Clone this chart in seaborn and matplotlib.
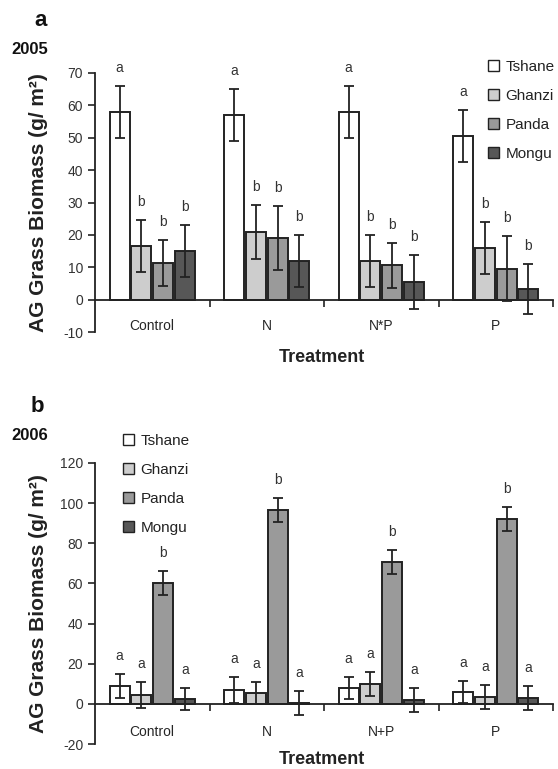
import numpy as np
import pandas as pd
import matplotlib
matplotlib.use("Agg")
import matplotlib.pyplot as plt
from matplotlib.patches import Patch
import seaborn as sns

# ---------------- data ----------------
sites = ["Tshane", "Ghanzi", "Panda", "Mongu"]
site_colors = ["#ffffff", "#cdcdcd", "#9a9a9a", "#575757"]

treatments_2005 = ["Control", "N", "N*P", "P"]
tshane_2005 = [58, 57, 58, 50.5]
ghanzi_2005 = [16.5, 21, 12, 16]
panda_2005 = [11.3, 19, 10.6, 9.5]
mongu_2005 = [15, 12, 5.5, 3.3]
tshane_2005_err = [8, 8, 8, 8]
ghanzi_2005_err = [8, 8.3, 8, 8]
panda_2005_err = [7, 10, 7, 10]
mongu_2005_err = [8, 8, 8.3, 7.8]
tshane_2005_let = ["a", "a", "a", "a"]
ghanzi_2005_let = ["b", "b", "b", "b"]
panda_2005_let = ["b", "b", "b", "b"]
mongu_2005_let = ["b", "b", "b", "b"]

treatments_2006 = ["Control", "N", "N+P", "P"]
tshane_2006 = [9, 7, 8, 6]
ghanzi_2006 = [4.5, 5.5, 10, 3.5]
panda_2006 = [60, 96.5, 70.5, 92]
mongu_2006 = [2.5, 0.5, 2, 3]
tshane_2006_err = [6, 6.5, 5.5, 5.5]
ghanzi_2006_err = [6.5, 5.5, 6, 6]
panda_2006_err = [6, 6, 6, 6]
mongu_2006_err = [5.5, 6, 6, 6]
tshane_2006_let = ["a", "a", "a", "a"]
ghanzi_2006_let = ["a", "a", "a", "a"]
panda_2006_let = ["b", "b", "b", "b"]
mongu_2006_let = ["a", "a", "a", "a"]

yticks_2005 = [-10, 0, 10, 20, 30, 40, 50, 60, 70]
yticks_2006 = [-20, 0, 20, 40, 60, 80, 100, 120]

# ---------------- style ----------------
sns.set_style("ticks")
plt.rcParams["font.family"] = ["Liberation Sans", "DejaVu Sans"]
INK = "#222222"

fig = plt.figure(figsize=(5.58, 7.69), dpi=100)
W, H = 558.0, 769.0


def fx(px):
    return px / W


def fy(py):
    return 1 - py / H


def panel(ax, cats, means, errs, lets, yticks, label_pad):
    rows = []
    for s, m in zip(sites, means):
        for c, v in zip(cats, m):
            rows.append({"Treatment": c, "Site": s, "value": v})
    df = pd.DataFrame(rows)
    sns.barplot(data=df, x="Treatment", y="value", hue="Site", order=cats,
                hue_order=sites, palette=site_colors, edgecolor=INK,
                linewidth=1.4, width=0.76, gap=0.08, errorbar=None,
                legend=False, ax=ax)
    for cont, m, e, l in zip(ax.containers, means, errs, lets):
        for bar, mv, ev, lv in zip(cont, m, e, l):
            x = bar.get_x() + bar.get_width() / 2
            ax.errorbar(x, mv, yerr=ev, color=INK, capsize=3.6, lw=1.3,
                        capthick=1.3, zorder=3)
            ax.annotate(lv, (x, mv + ev), xytext=(0, 8),
                        textcoords="offset points", ha="center", va="bottom",
                        fontsize=10, color="#333333")
    ax.set_xlim(-0.5, 3.5)
    ax.set_ylim(yticks[0], yticks[-1])
    ax.set_yticks(yticks)
    ax.set_yticklabels([str(t) for t in yticks], fontsize=10, color="#333333")
    ax.set_xticks([0.5, 1.5, 2.5, 3.5])
    ax.set_xticklabels([""] * 4)
    ax.set_xticks(range(len(cats)), minor=True)
    ax.set_xticklabels(cats, minor=True, fontsize=10.5, color="#444444")
    ax.tick_params(axis="x", which="minor", length=0, pad=label_pad)
    ax.tick_params(axis="x", which="major", length=5, width=1.2, color=INK,
                   direction="out")
    ax.tick_params(axis="y", length=5, width=1.2, color=INK, direction="out")
    for sp in ["top", "right"]:
        ax.spines[sp].set_visible(False)
    ax.spines["bottom"].set_position(("data", 0))
    ax.spines["bottom"].set_linewidth(1.3)
    ax.spines["bottom"].set_color(INK)
    ax.spines["left"].set_linewidth(1.3)
    ax.spines["left"].set_color(INK)
    ax.set_xlabel("")
    ax.set_ylabel("AG Grass Biomass (g/ m²)", fontsize=15, fontweight="bold",
                  color=INK)
    ax.yaxis.set_label_coords(-0.103, 0.5)


handles = [Patch(facecolor=c, edgecolor=INK, linewidth=1.0) for c in site_colors]

# Panel a
ax1 = fig.add_axes([fx(95), fy(332), fx(553) - fx(95), fy(73) - fy(332)])
panel(ax1, treatments_2005,
      [tshane_2005, ghanzi_2005, panda_2005, mongu_2005],
      [tshane_2005_err, ghanzi_2005_err, panda_2005_err, mongu_2005_err],
      [tshane_2005_let, ghanzi_2005_let, panda_2005_let, mongu_2005_let],
      yticks_2005, 14)
fig.legend(handles, sites, loc="upper left", bbox_to_anchor=(fx(488), fy(60)),
           frameon=False, fontsize=11, handlelength=0.7, handleheight=0.7,
           handletextpad=0.45, labelspacing=0.98, borderpad=0, borderaxespad=0,
           labelcolor="#222222")

# Panel b
ax2 = fig.add_axes([fx(95), fy(744), fx(553) - fx(95), fy(463) - fy(744)])
panel(ax2, treatments_2006,
      [tshane_2006, ghanzi_2006, panda_2006, mongu_2006],
      [tshane_2006_err, ghanzi_2006_err, panda_2006_err, mongu_2006_err],
      [tshane_2006_let, ghanzi_2006_let, panda_2006_let, mongu_2006_let],
      yticks_2006, 15)
fig.legend(handles, sites, loc="upper left", bbox_to_anchor=(fx(123), fy(434)),
           frameon=False, fontsize=11, handlelength=0.7, handleheight=0.7,
           handletextpad=0.45, labelspacing=0.98, borderpad=0, borderaxespad=0,
           labelcolor="#222222")

# Titles and axis titles
fig.text(fx(41), fy(21), "a", fontsize=16, fontweight="bold", ha="center",
         va="center", color="#111111")
fig.text(fx(30), fy(49), "2005", fontsize=12, fontweight="bold", ha="center",
         va="center", color="#111111")
fig.text(fx(37), fy(407), "b", fontsize=16, fontweight="bold", ha="center",
         va="center", color="#111111")
fig.text(fx(30), fy(435), "2006", fontsize=12, fontweight="bold", ha="center",
         va="center", color="#111111")
fig.text(fx(322), fy(358), "Treatment", fontsize=13, fontweight="bold",
         ha="center", va="center", color=INK)
fig.text(fx(322), fy(760), "Treatment", fontsize=13, fontweight="bold",
         ha="center", va="center", color=INK)

fig.savefig("out.png", dpi=100)
